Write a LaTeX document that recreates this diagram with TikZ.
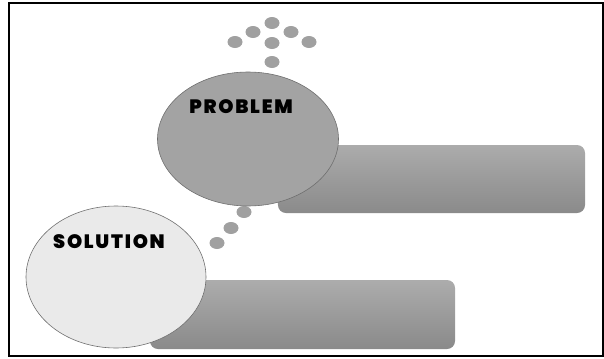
\documentclass[tikz,border=0pt]{standalone}
\usepackage{fontspec}
\usepackage{xcolor}
\usepackage{tikz}
\usetikzlibrary{shapes.geometric}
\newfontfamily\heavyfont{Poppins Black}[LetterSpace=9]
\definecolor{pgray}{RGB}{163,163,163}
\definecolor{sgray}{RGB}{234,234,234}
\definecolor{edgegray}{RGB}{110,110,110}
\definecolor{bartop}{RGB}{172,172,172}
\definecolor{barbot}{RGB}{138,138,138}
\definecolor{dotgray}{RGB}{160,160,160}
\tikzset{
  bubble/.style ={ellipse, draw=edgegray, line width=0.5pt},
  bar/.style    ={rectangle, rounded corners=0.24cm, top color=bartop,
                  bottom color=barbot, draw=none},
  dot/.style    ={ellipse, fill=dotgray, draw=none, inner sep=0pt,
                  minimum width=0.45cm, minimum height=0.36cm},
  tag/.style    ={font=\heavyfont\fontsize{16.5}{19}\selectfont, text=black}
}
\begin{document}
\begin{tikzpicture}[x=0.03cm, y=-0.03cm]
\useasboundingbox (0,0) rectangle (604,359);
\draw[line width=1.7pt] (9,3) rectangle (603,356);

% dots
\foreach \px/\py in {272/23, 253/32, 291/32, 235/42, 309/42, 272/43, 272/62,
                     244/212, 231/228, 217/243}
  \node[dot] at (\px,\py) {};

% problem
\node[bar, minimum width=9.21cm, minimum height=2.04cm] (pbar) at (431.5,179) {};
\node[bubble, fill=pgray, minimum width=5.43cm, minimum height=4.02cm] (prob) at (248,139) {};
\node[tag] (ptag) at (241,107) {PROBLEM};

% solution
\node[bar, minimum width=9.15cm, minimum height=2.07cm] (sbar) at (302.5,314.5) {};
\node[bubble, fill=sgray, minimum width=5.4cm, minimum height=4.26cm] (sol) at (116,277) {};
\node[tag] (stag) at (109,242) {SOLUTION};
\end{tikzpicture}
\end{document}
